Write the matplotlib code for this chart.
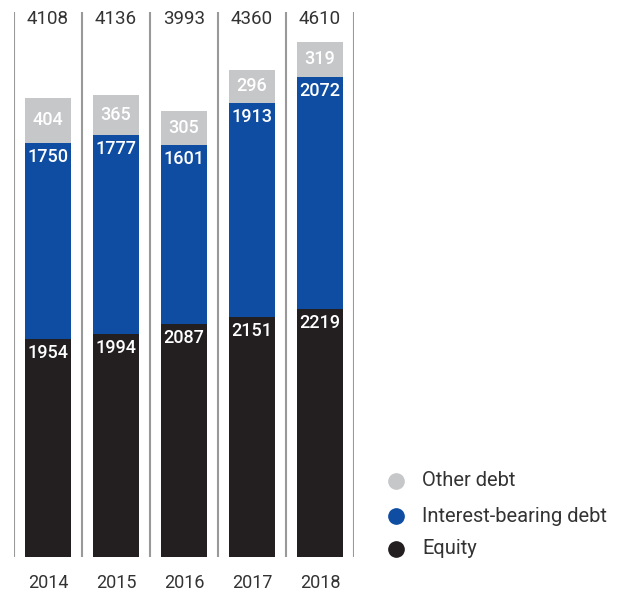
import matplotlib
matplotlib.use("Agg")
import matplotlib.pyplot as plt
from matplotlib.lines import Line2D

years = ["2014", "2015", "2016", "2017", "2018"]
equity = [1954, 1994, 2087, 2151, 2219]
interest_bearing_debt = [1750, 1777, 1601, 1913, 2072]
other_debt = [404, 365, 305, 296, 319]
totals = [4108, 4136, 3993, 4360, 4610]

C_EQUITY = "#231f20"
C_IBD = "#0e4da2"
C_OTHER = "#c6c7c9"
C_TEXT = "#333333"
C_SEP = "#999999"

plt.rcParams["font.family"] = ["Roboto", "DejaVu Sans"]

W, H = 624, 594
fig = plt.figure(figsize=(W / 100, H / 100), dpi=100)
# axes spans the separator area: x 14..354 px, y 12..557 px
ax = fig.add_axes([14 / W, 1 - 557 / H, 340 / W, 545 / H])
ax.set_xlim(-0.5, len(years) - 0.5)
ax.set_ylim(0, 545 / 0.1118)
ax.axis("off")

x = list(range(len(years)))
bw = 46 / 68
ax.bar(x, equity, width=bw, color=C_EQUITY, zorder=2)
ax.bar(x, interest_bearing_debt, width=bw, bottom=equity, color=C_IBD, zorder=2)
base2 = [e + i for e, i in zip(equity, interest_bearing_debt)]
ax.bar(x, other_debt, width=bw, bottom=base2, color=C_OTHER, zorder=2)

for s in range(len(years) + 1):
    ax.axvline(s - 0.5, color=C_SEP, lw=1.5, zorder=1)

off = 14 / 0.1118
lbl = dict(color="white", fontsize=13, fontweight="medium", ha="center", va="center", zorder=3)
for i in x:
    ax.text(i, equity[i] - off, f"{equity[i]}", **lbl)
    ax.text(i, base2[i] - off, f"{interest_bearing_debt[i]}", **lbl)
    ax.text(i, base2[i] + other_debt[i] / 2, f"{other_debt[i]}", **lbl)
    ax.text(i, 1 - 7 / 545, f"{totals[i]}", transform=ax.get_xaxis_transform(),
            color=C_TEXT, fontsize=13.5, ha="center", va="center")
    ax.text(i, -26 / 545, years[i], transform=ax.get_xaxis_transform(),
            color=C_TEXT, fontsize=13, ha="center", va="center")

# legend
entries = [("Other debt", C_OTHER, 481), ("Interest-bearing debt", C_IBD, 516), ("Equity", C_EQUITY, 549)]
for label, col, py in entries:
    fig.add_artist(Line2D([396 / W], [1 - py / H], marker="o", markersize=11,
                          color=col, linestyle="none", transform=fig.transFigure))
    fig.text(422 / W, 1 - py / H, label, color=C_TEXT, fontsize=14.5, ha="left", va="center")

fig.savefig("out.png", dpi=100, facecolor="white")
